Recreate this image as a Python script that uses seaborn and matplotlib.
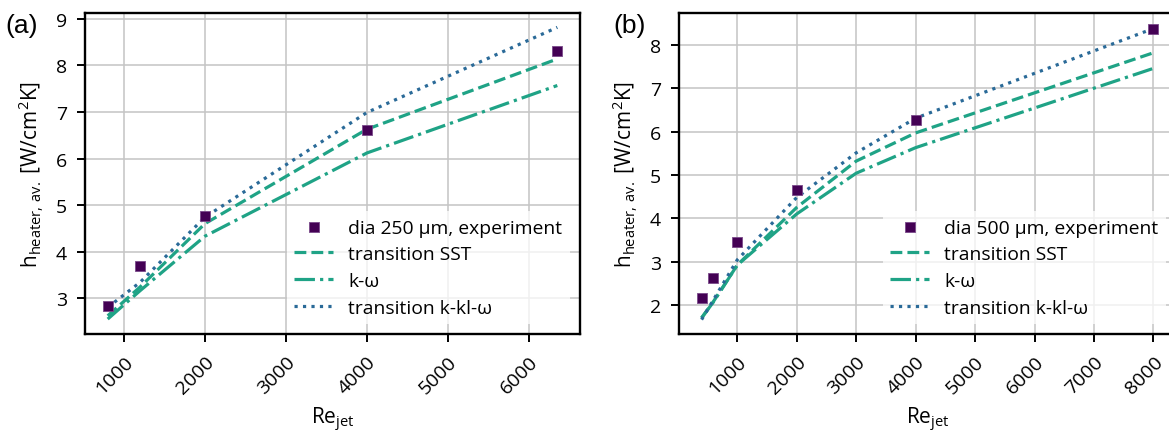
import numpy as np
import pandas as pd
import matplotlib
matplotlib.use('Agg')
import matplotlib.pyplot as plt
import seaborn as sns

# panel (a): dia 250 um
re_exp_a = [800, 1200, 2000, 4000, 6350]
h_exp_a = [2.82, 3.69, 4.76, 6.61, 8.32]
re_sim_a = [800, 1200, 2000, 4000, 6350]
h_sst_a = [2.62, 3.24, 4.60, 6.63, 8.14]
h_kw_a = [2.55, 3.16, 4.33, 6.12, 7.57]
h_kkl_a = [2.80, 3.34, 4.74, 6.99, 8.82]

# panel (b): dia 500 um
re_exp_b = [400, 600, 1000, 2000, 4000, 8000]
h_exp_b = [2.17, 2.63, 3.45, 4.66, 6.27, 8.38]
re_sim_b = [400, 600, 1000, 2000, 3000, 4000, 8000]
h_sst_b = [1.70, 2.08, 2.92, 4.25, 5.32, 5.97, 7.82]
h_kw_b = [1.70, 2.07, 2.92, 4.10, 5.04, 5.63, 7.46]
h_kkl_b = [1.66, 2.12, 3.04, 4.48, 5.51, 6.31, 8.38]

exp_labels = ['dia 250 µm, experiment', 'dia 500 µm, experiment']
model_labels = ['transition SST', 'k-ω', 'transition k-kl-ω']

c_exp = '#440154'
c_sst = '#1fa386'
c_kw = '#1fa386'
c_kkl = '#2a6a98'

sns.set_theme(style='whitegrid')
plt.rcParams.update({
    'font.family': ['Open Sans', 'DejaVu Sans'],
    'mathtext.fontset': 'custom',
    'mathtext.rm': 'Open Sans',
    'mathtext.default': 'regular',
    'axes.edgecolor': 'black',
    'axes.linewidth': 1.7,
    'grid.color': '#c4c4c4',
    'grid.linewidth': 1.1,
    'xtick.bottom': True,
    'ytick.left': True,
    'xtick.major.size': 6,
    'ytick.major.size': 6,
    'xtick.major.width': 1.4,
    'ytick.major.width': 1.4,
    'xtick.major.pad': 7,
    'ytick.major.pad': 7,
    'xtick.color': 'black',
    'ytick.color': 'black',
    'text.color': 'black',
    'axes.labelcolor': 'black',
    'xtick.labelsize': 14,
    'ytick.labelsize': 14,
    'axes.labelsize': 15,
    'legend.fontsize': 13.9,
})

fig = plt.figure(figsize=(11.69, 4.35), dpi=100)
ax1 = fig.add_axes([85 / 1169, 0.230, 495 / 1169, 0.738])
ax2 = fig.add_axes([679 / 1169, 0.230, 497 / 1169, 0.738])

panels = [
    (ax1, re_exp_a, h_exp_a, re_sim_a, h_sst_a, h_kw_a, h_kkl_a, exp_labels[0], [1000, 2000, 3000, 4000, 5000, 6000]),
    (ax2, re_exp_b, h_exp_b, re_sim_b, h_sst_b, h_kw_b, h_kkl_b, exp_labels[1], list(range(1000, 9000, 1000))),
]

for ax, rx, hx, rs, hs, hk, hkl, elab, xt in panels:
    sns.scatterplot(x=rx, y=hx, ax=ax, marker='s', s=62, color=c_exp,
                    edgecolor='#7a4a8a', linewidth=0.6, label=elab, zorder=4)
    sns.lineplot(x=rs, y=hs, ax=ax, color=c_sst, linestyle='--', lw=2.3,
                 label=model_labels[0], zorder=3)
    sns.lineplot(x=rs, y=hk, ax=ax, color=c_kw, linestyle='-.', lw=2.3,
                 label=model_labels[1], zorder=3)
    sns.lineplot(x=rs, y=hkl, ax=ax, color=c_kkl, linestyle=':', lw=2.3,
                 label=model_labels[2], zorder=3)
    ax.set_xticks(xt)
    ax.set_xticklabels([str(v) for v in xt], rotation=45, ha='right',
                       rotation_mode='anchor')
    ax.set_xlabel(r'Re$_{\rm jet}$', labelpad=6)
    ax.set_ylabel(r'h$_{\rm heater,\,av.}$ [W/cm$^2$K]', labelpad=7)
    ax.legend(loc='lower right', frameon=True, framealpha=0.75,
              edgecolor='none', facecolor='white', fancybox=False,
              labelspacing=0.45, borderaxespad=0.5)
    for sp in ax.spines.values():
        sp.set_color('black')
        sp.set_linewidth(1.7)

ax1.set_xlim(520, 6630)
ax1.set_ylim(2.23, 9.13)
ax1.set_yticks([3, 4, 5, 6, 7, 8, 9])
ax2.set_xlim(20, 8380)
ax2.set_ylim(1.33, 8.74)
ax2.set_yticks([2, 3, 4, 5, 6, 7, 8])

fig.text(0.005, 0.941, '(a)', fontsize=19, family='Liberation Sans', va='center', ha='left')
fig.text(613 / 1169, 0.941, '(b)', fontsize=19, family='Liberation Sans', va='center', ha='left')

fig.savefig('out.png', dpi=100)
